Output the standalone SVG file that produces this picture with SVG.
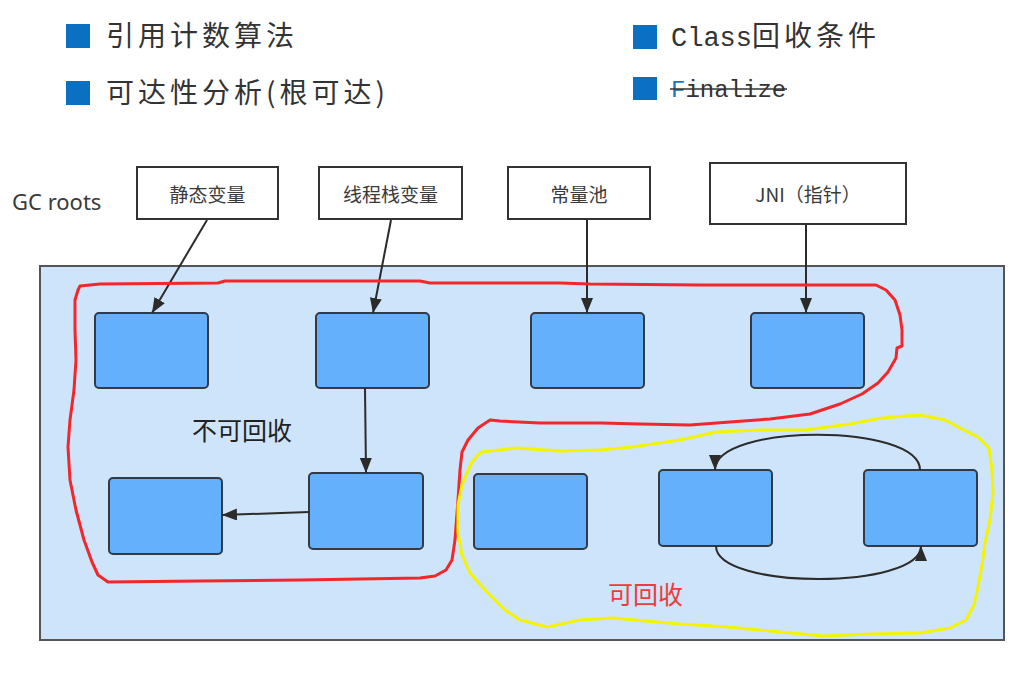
<svg xmlns="http://www.w3.org/2000/svg" width="1026" height="676" viewBox="0 0 1026 676">
  <defs>
    <style>
      .bullet { fill: #0b6fc2; }
      .head { font-family: "Noto Sans CJK SC", "Noto Sans", sans-serif; font-size: 28px; fill: #333; letter-spacing: 4px; }
      .mono { font-family: "Liberation Mono", "Noto Sans CJK SC", monospace; fill: #333; }
      .root rect { fill: #ffffff; stroke: #333; stroke-width: 2; }
      .root text { font-family: "Noto Sans CJK SC", "Noto Sans", sans-serif; font-size: 19px; fill: #3a3a3a; text-anchor: middle; dominant-baseline: central; }
      .obj rect { fill: #64b0fd; stroke: #333a44; stroke-width: 2; }
      .link { fill: none; stroke: #2b2b2b; stroke-width: 2; marker-end: url(#arr); }
      .label { font-family: "Noto Sans CJK SC", "Noto Sans", sans-serif; font-size: 25px; }
    </style>
    <marker id="arr" markerWidth="15" markerHeight="12" refX="15" refY="6" orient="auto" markerUnits="userSpaceOnUse">
      <path d="M0,0 L15,6 L0,12 z" fill="#2b2b2b"/>
    </marker>
  </defs>

  <rect width="1026" height="676" fill="#ffffff"/>

  <!-- bullet list -->
  <g id="bullets">
    <rect class="bullet" x="66" y="24" width="24" height="24"/>
    <text class="head" x="106" y="46">引用计数算法</text>
    <rect class="bullet" x="66" y="81" width="24" height="24"/>
    <text class="head" x="106" y="103">可达性分析(根可达)</text>

    <rect class="bullet" x="633" y="25" width="24" height="24"/>
    <text x="671" y="46"><tspan class="mono" font-size="27">Class</tspan><tspan class="head">回收条件</tspan></text>
    <rect class="bullet" x="633" y="77" width="24" height="23"/>
    <text class="mono" x="671" y="97" font-size="24"><tspan fill="#1a73c0">F</tspan>inalize</text>
    <line x1="670" y1="89" x2="787" y2="89" stroke="#333" stroke-width="1.6"/>
  </g>

  <text id="gc-roots" x="12" y="210" font-family="Noto Sans, Noto Sans CJK SC, sans-serif" font-size="22" fill="#3a3a3a">GC roots</text>

  <!-- root sources -->
  <g id="root-static" class="root"><rect x="137" y="167" width="141" height="52"/><text x="207.5" y="193">静态变量</text></g>
  <g id="root-thread" class="root"><rect x="319" y="167" width="143" height="52"/><text x="390.5" y="193">线程栈变量</text></g>
  <g id="root-const" class="root"><rect x="508" y="167" width="142" height="52"/><text x="579" y="193">常量池</text></g>
  <g id="root-jni" class="root"><rect x="710" y="163" width="196" height="61"/><text x="808" y="193">JNI（指针）</text></g>

  <!-- heap area -->
  <rect id="heap" x="40" y="266" width="964" height="374" fill="#cde4fa" stroke="#555" stroke-width="2"/>

  <!-- heap objects -->
  <g id="obj-a" class="obj"><rect x="95" y="313" width="113" height="75" rx="4"/></g>
  <g id="obj-b" class="obj"><rect x="316" y="313" width="113" height="75" rx="4"/></g>
  <g id="obj-c" class="obj"><rect x="531" y="313" width="113" height="75" rx="4"/></g>
  <g id="obj-d" class="obj"><rect x="751" y="313" width="113" height="75" rx="4"/></g>
  <g id="obj-e" class="obj"><rect x="109" y="478" width="113" height="76" rx="4"/></g>
  <g id="obj-f" class="obj"><rect x="309" y="473" width="114" height="76" rx="4"/></g>
  <g id="obj-g" class="obj"><rect x="474" y="474" width="113" height="75" rx="4"/></g>
  <g id="obj-h" class="obj"><rect x="659" y="470" width="113" height="76" rx="4"/></g>
  <g id="obj-i" class="obj"><rect x="864" y="470" width="113" height="76" rx="4"/></g>

  <!-- references -->
  <g id="connectors">
    <path class="link" d="M207,220 L152,313"/>
    <path class="link" d="M391,220 L373,313"/>
    <path class="link" d="M587,220 L587,313"/>
    <path class="link" d="M806,225 L806,313"/>
    <path class="link" d="M365,388 L366,473"/>
    <path class="link" d="M309,512 L222,515"/>
    <path class="link" d="M920,470 C920,423 715,423 715,470"/>
    <path class="link" d="M716,546 C716,590 921,590 921,546"/>
  </g>

  <!-- hand-drawn region outlines -->
  <g id="outlines" fill="none" stroke-width="3" stroke-linejoin="round" stroke-linecap="round">
    <path stroke="#f3262b" d="M80,286 L100,284 L218,283 L225,281 L420,281 L430,283 L560,283 L590,284 L700,285 L876,285 L886,290 L895,300 L900,315 L902,330 L902,346 L897,348 L896,358 L888,372 L878,383 L862,394 L840,404 L810,414 L770,419 L730,422 L690,425 L640,424 L601,423 L540,423 L500,421 L490,420 L478,428 L468,440 L462,452 L460,470 L458,500 L455,540 L452,560 L446,570 L435,576 L420,578 L300,580 L200,581 L108,582 L98,575 L92,562 L84,540 L76,510 L70,480 L68,447 L70,420 L74,390 L76,360 L75,330 L75,300 L78,290 Z"/>
    <path stroke="#f4f400" d="M482,452 L516,448 L560,451 L600,450 L632,447 L680,440 L716,432 L760,430 L805,430 L850,424 L882,418 L920,415 L945,420 L960,428 L978,437 L989,448 L992,470 L993,493 L990,520 L985,543 L982,565 L978,587 L974,605 L966,620 L950,628 L920,633 L870,634 L824,636 L780,632 L728,627 L680,624 L612,618 L580,620 L547,627 L520,620 L505,610 L490,595 L478,582 L470,573 L462,555 L458,533 L458,505 L462,485 L466,475 L472,462 L478,455 Z"/>
  </g>

  <text id="label-live" class="label" x="192" y="440" fill="#222">不可回收</text>
  <text id="label-dead" class="label" x="608" y="604" fill="#ee3b3b">可回收</text>
</svg>
